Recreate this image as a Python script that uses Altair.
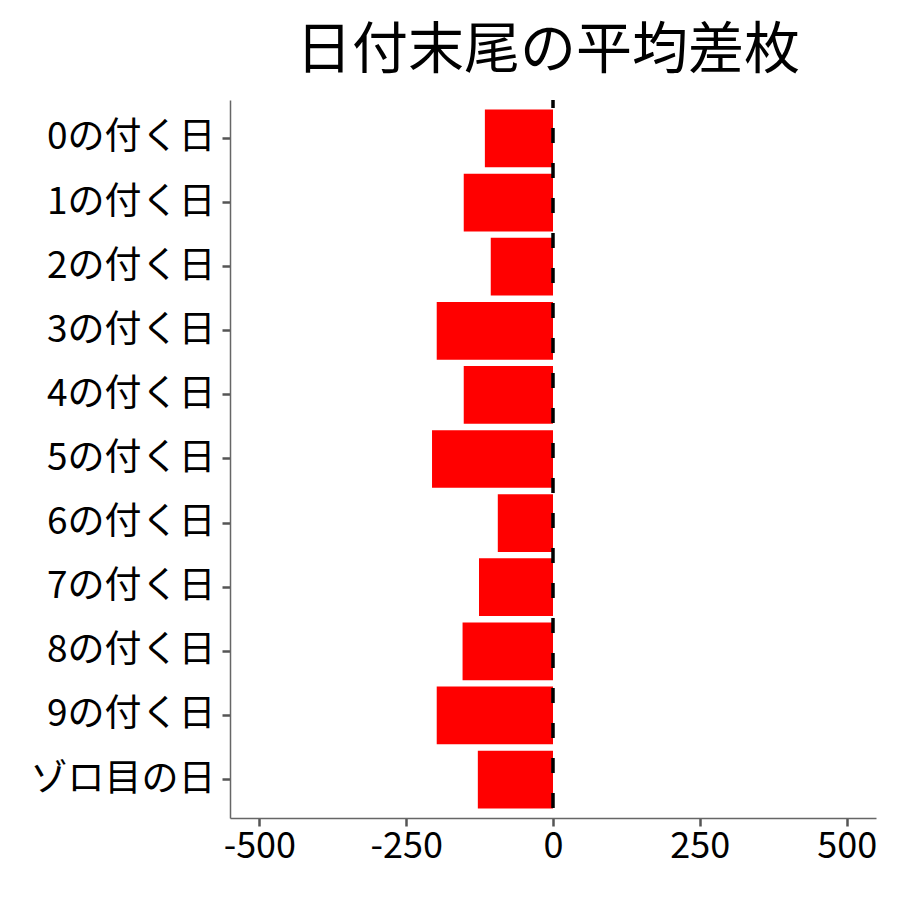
import altair as alt
import pandas as pd

categories = ["0の付く日", "1の付く日", "2の付く日", "3の付く日", "4の付く日",
              "5の付く日", "6の付く日", "7の付く日", "8の付く日", "9の付く日", "ゾロ目の日"]
values = [-116, -152, -106, -198, -152, -206, -94, -126, -154, -198, -128]
x_ticks = [-500, -250, 0, 250, 500]

df = pd.DataFrame({"day": categories, "diff": values})
zero = pd.DataFrame({"x": [0]})

FONT = "Noto Sans CJK JP"

bars = alt.Chart(df).mark_bar(color="#FF0000").encode(
    x=alt.X("diff:Q", scale=alt.Scale(domain=[-550, 550], nice=False, zero=False),
            axis=alt.Axis(values=x_ticks, title=None, grid=False, domain=True,
                          domainColor="#666666", domainWidth=1.5,
                          tickColor="#555555", tickSize=8, tickWidth=2.5,
                          labelFontSize=36, labelColor="#000000", labelFont=FONT,
                          labelPadding=3, labelExpr="toString(datum.value)")),
    y=alt.Y("day:N", sort=categories,
            scale=alt.Scale(paddingInner=0.1, paddingOuter=0.15),
            axis=alt.Axis(title=None, grid=False, domain=True,
                          domainColor="#666666", domainWidth=1.5,
                          tickColor="#555555", tickSize=8, tickWidth=2.5,
                          labelFontSize=37, labelColor="#000000", labelFont=FONT,
                          labelPadding=7, labelLimit=400)),
)

rule = alt.Chart(zero).mark_rule(color="#000000", strokeWidth=3.5,
                                 strokeDash=[15, 20], strokeDashOffset=7).encode(
    x=alt.X("x:Q")
)

chart = alt.layer(bars, rule).properties(
    width=646,
    height=718,
    title=alt.TitleParams("日付末尾の平均差枚", font=FONT, fontSize=56,
                          fontWeight="normal", color="#000000",
                          anchor="middle", offset=18, dx=-5, limit=800),
    autosize=alt.AutoSizeParams(type="none"),
    padding={"left": 222, "top": 92, "right": 10, "bottom": 60},
).configure_view(stroke=None)

chart.save("out.html", embed_options={"renderer": "svg", "actions": False})
